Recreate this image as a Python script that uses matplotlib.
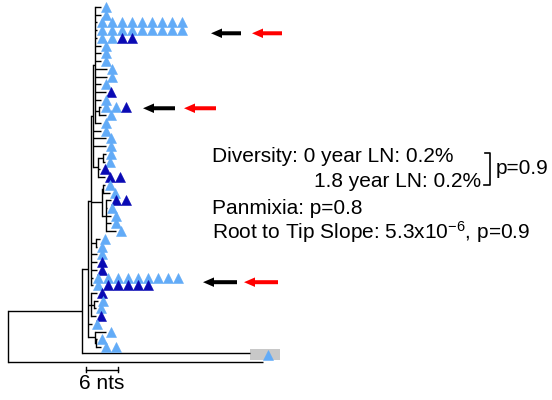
import matplotlib.pyplot as plt
from matplotlib.patches import FancyArrow, Rectangle

plt.rcParams['font.family'] = ['Liberation Sans', 'DejaVu Sans']
plt.rcParams['mathtext.fontset'] = 'custom'
plt.rcParams['mathtext.rm'] = 'Liberation Sans'
plt.rcParams['mathtext.it'] = 'Liberation Sans:italic'

# tips, top to bottom: branch tip depth (nts) and the samples at that tip
# L = 0 year LN, D = 1.8 year LN
tip_depth = [17.4, 17.4, 16.7, 16.7, 16.7, 17.4, 17.4, 17.4, 18.6, 18.6,
             17.4, 18.4, 17.4, 17.4, 18.4, 17.4, 17.4, 18.4, 18.4, 18.4,
             18.2, 17.3, 18.2, 18.2, 19.1, 19.3, 18.6, 19.3, 19.3, 20.3,
             17.3, 16.7, 16.7, 16.7, 16.7, 15.9, 15.9, 16.7, 16.9, 16.5,
             16.5, 15.75, 18.4, 16.7, 17.4]
tip_samples = ['L', 'L', 'LLLLLLLLL', 'LLLLLLLLL', 'LLDD', 'L', 'L', 'L', 'L', 'L',
               'L', 'D', 'L', 'LLD', 'L', 'L', 'L', 'L', 'L', 'L',
               'L', 'D', 'DD', 'L', 'L', 'DD', 'L', 'L', 'L', 'L',
               'L', 'L', 'L', 'D', 'D', 'LLLLLLLLL', 'LDDDDD', 'D', 'L', 'L',
               'D', 'L', 'L', 'L', 'LL']

# outgroup branches (depth, row)
og_depth = [45.4, 47.8]
og_row = [44.8, 45.9]
og_sample_depth = 48.75
og_sample_row = 45.0

# topology: (node depth, children); ints are tips, strings are outgroups
G1 = (17.1, [13, 14])
F_top = (16.3, list(range(0, 13)) + [G1, 15])
H1 = (16.9, [(17.8, [19, 20]), 21, 22])
F = (15.9, [F_top, 16, 17, 18, H1])
H2 = (17.6, [(17.9, [23, 24]), (18.4, [25, 26, 27, 28, 29])])
I1 = (16.5, [30, 31])
E = (15.6, [F, H2, I1, 32, 33, 34, 35, 36])
J = (15.6, [37, (16.1, [38, 39]), 40])
K = (16.3, [42, (16.5, [43, 44])])
D = (15.0, [E, J, 41, K])
C = (13.9, [D, 'og0'])
tree = (0.0, [C, 'og1'])

# rows the arrows point at
arrow_rows = [3.4, 13.1, 35.6]
arrow_x = [(241, 211), (143 + 32, 143), (237, 203)]

light = '#62abf7'
dark = '#0a0ab4'
lw = 1.0

fig = plt.figure(figsize=(5.52, 4.0), dpi=100)
ax = fig.add_axes([0, 0, 1, 1])
px_nt = 5.333
row_px = 7.73
ax.set_xlim(-8 / px_nt, (552 - 8) / px_nt)
ax.set_ylim((400 - 7) / row_px, -7 / row_px)
ax.axis('off')


def draw(node):
    if isinstance(node, int):
        return node, tip_depth[node]
    if isinstance(node, str):
        k = int(node[2:])
        return og_row[k], og_depth[k]
    d, kids = node
    pts = [draw(k) for k in kids]
    for y, x in pts:
        ax.plot([d, x], [y, y], color='black', lw=lw, solid_capstyle='butt')
    ax.plot([d, d], [pts[0][0], pts[-1][0]], color='black', lw=lw,
            solid_capstyle='projecting')
    return (pts[0][0] + pts[-1][0]) / 2, d


draw(tree)

gap = 5 / px_nt
step = 10 / px_nt
for i, (d, s) in enumerate(zip(tip_depth, tip_samples)):
    for k, c in enumerate(s):
        col = light if c == 'L' else dark
        ax.plot(d + gap + k * step, i, marker='^', ms=7.3, color=col,
                mec=col, mew=0.4, zorder=3)

# highlighted outgroup sample
ax.add_patch(Rectangle((250 / px_nt - 8 / px_nt, og_sample_row - 5.5 / row_px),
                       30 / px_nt, 11 / row_px, color='#c8c8c8', zorder=1, lw=0))
ax.plot(og_sample_depth, og_sample_row, marker='^', ms=7.3, color=light,
        mec=light, mew=0.4, zorder=3)

# scale bar
sb_row = (370 - 7) / row_px
sb_x0 = (86 - 8) / px_nt
ax.plot([sb_x0, sb_x0 + 6], [sb_row, sb_row], color='black', lw=lw)
for xx in (sb_x0, sb_x0 + 6):
    ax.plot([xx, xx], [sb_row - 2.5 / row_px, sb_row + 2.5 / row_px], color='black', lw=lw)

# overlay in pixel coordinates for annotations
ov = fig.add_axes([0, 0, 1, 1])
ov.set_xlim(0, 552)
ov.set_ylim(400, 0)
ov.axis('off')
ov.patch.set_alpha(0)

ov.text(102, 389, '6 nts', ha='center', va='baseline', fontsize=15)

for r, (x0, x1) in zip(arrow_rows, arrow_x):
    y = 7 + r * row_px
    for xs, col in ((0, 'black'), (41, 'red')):
        ov.add_patch(FancyArrow(x0 + xs, y, (x1 - x0), 0, width=4,
                                head_width=9.5, head_length=11,
                                length_includes_head=True, color=col, lw=0))

fs = 15
ov.text(212, 162, 'Diversity: 0 year LN: 0.2%', fontsize=fs, va='baseline')
ov.text(314, 187, '1.8 year LN: 0.2%', fontsize=fs, va='baseline')
ov.plot([485, 490, 490, 484], [153, 153, 185, 185], color='black', lw=1.2)
ov.text(496, 174, 'p=0.9', fontsize=fs, va='baseline')
ov.text(212, 214, 'Panmixia: p=0.8', fontsize=fs, va='baseline')
ov.text(212, 239, r'Root to Tip Slope: 5.3x10$^{\mathrm{-6}}$, p=0.9', fontsize=fs,
        va='baseline')

fig.savefig('out.png', dpi=100)
